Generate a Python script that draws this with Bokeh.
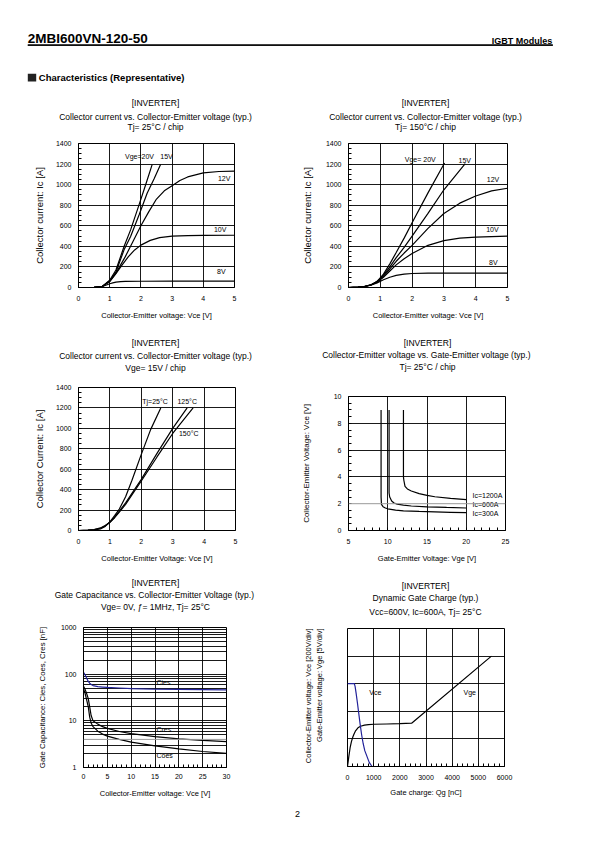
import math
from bokeh.plotting import figure
from bokeh.layouts import column, row
from bokeh.models import Range1d, FixedTicker, SingleIntervalTicker, Span, NumeralTickFormatter, BoxAnnotation
from bokeh.embed import file_html
from bokeh.resources import INLINE
from bokeh.core.properties import value

FONT = "Liberation Sans"

# ---------------- data ----------------
# Chart 1: Ic vs Vce, Tj = 25 C
c1_x_20 = [0, 0.5, 0.75, 1.0, 1.2, 1.46, 1.67, 1.94, 2.15, 2.36]
c1_y_20 = [0, 2, 8, 70, 170, 398, 560, 803, 997, 1195]
c1_x_15 = [0, 0.5, 0.75, 1.0, 1.2, 1.46, 1.67, 1.94, 2.2, 2.42, 2.63]
c1_y_15 = [0, 2, 8, 65, 150, 366, 495, 705, 916, 1055, 1195]
c1_x_12 = [0, 0.5, 0.75, 1.0, 1.2, 1.5, 1.75, 2.0, 2.25, 2.5, 2.75, 3.0, 3.25, 3.5, 4.0, 4.5, 5.0]
c1_y_12 = [0, 2, 8, 60, 140, 300, 450, 600, 735, 860, 940, 990, 1040, 1075, 1115, 1128, 1132]
c1_x_10 = [0, 0.5, 0.75, 1.0, 1.2, 1.4, 1.6, 1.8, 2.0, 2.3, 2.6, 3.0, 3.5, 4.0, 5.0]
c1_y_10 = [0, 2, 8, 58, 135, 220, 300, 365, 412, 458, 485, 500, 505, 507, 508]
c1_x_8 = [0, 0.5, 0.75, 0.9, 1.0, 1.1, 1.2, 1.35, 1.5, 2.0, 3.0, 4.0, 5.0]
c1_y_8 = [0, 2, 8, 24, 36, 45, 52, 57, 59, 61, 62, 62, 62]
c1_lab_text = ["Vge=20V", "15V", "12V", "10V", "8V"]
c1_lab_x = [1.49, 2.62, 4.47, 4.34, 4.44]
c1_lab_y = [1270, 1270, 1061, 560, 155]

# Chart 2: Ic vs Vce, Tj = 150 C
c2_x_20 = [0, 0.3, 0.5, 0.7, 0.9, 1.1, 1.3, 1.5, 1.75, 2.0, 2.5, 3.02]
c2_y_20 = [0, 3, 10, 25, 60, 130, 230, 340, 480, 630, 920, 1210]
c2_x_15 = [0, 0.3, 0.5, 0.7, 0.9, 1.1, 1.3, 1.5, 1.75, 2.0, 2.5, 3.0, 3.67]
c2_y_15 = [0, 3, 10, 25, 58, 120, 200, 290, 390, 500, 720, 950, 1205]
c2_x_12 = [0, 0.3, 0.5, 0.7, 0.9, 1.1, 1.3, 1.5, 1.75, 2.0, 2.5, 3.0, 3.5, 4.0, 4.5, 5.0]
c2_y_12 = [0, 3, 10, 24, 55, 110, 180, 255, 335, 410, 575, 720, 820, 890, 940, 965]
c2_x_10 = [0, 0.3, 0.5, 0.7, 0.9, 1.1, 1.3, 1.5, 1.75, 2.0, 2.5, 3.0, 3.5, 4.0, 4.5, 5.0]
c2_y_10 = [0, 3, 10, 24, 52, 100, 160, 220, 280, 330, 410, 455, 480, 490, 495, 500]
c2_x_8 = [0, 0.3, 0.5, 0.7, 0.9, 1.1, 1.3, 1.5, 1.75, 2.0, 2.5, 3.0, 4.0, 5.0]
c2_y_8 = [0, 3, 9, 22, 45, 75, 100, 118, 130, 136, 139, 140, 140, 140]
c2_lab_text = ["Vge= 20V", "15V", "12V", "10V", "8V"]
c2_lab_x = [1.77, 3.46, 4.35, 4.33, 4.42]
c2_lab_y = [1245, 1238, 1051, 560, 243]

# Chart 3: Ic vs Vce, Vge = 15 V
c3_x_25 = [0, 0.3, 0.5, 0.7, 0.85, 1.0, 1.15, 1.3, 1.5, 1.7, 2.0, 2.3, 2.62]
c3_y_25 = [0, 2, 5, 15, 40, 85, 145, 210, 330, 490, 745, 990, 1200]
c3_x_125 = [0, 0.3, 0.5, 0.7, 0.85, 1.0, 1.15, 1.3, 1.5, 1.75, 2.0, 2.5, 3.0, 3.46]
c3_y_125 = [0, 3, 8, 22, 45, 80, 130, 190, 270, 385, 500, 755, 1000, 1200]
c3_x_150 = [0, 0.3, 0.5, 0.7, 0.85, 1.0, 1.15, 1.3, 1.5, 1.75, 2.0, 2.5, 3.0, 3.65]
c3_y_150 = [0, 3, 9, 25, 48, 80, 125, 180, 255, 370, 485, 720, 950, 1200]
c3_lab_text = ["Tj=25°C", "125°C", "150°C"]
c3_lab_x = [2.03, 3.15, 3.2]
c3_lab_y = [1259, 1259, 952]

# Chart 4: Vce vs Vge, Tj = 25 C
c4_x_300 = [9.15, 9.15, 9.2, 9.4, 9.7, 10, 11, 12, 14, 16, 18, 20]
c4_y_300 = [9, 2.5, 1.95, 1.78, 1.68, 1.62, 1.52, 1.47, 1.42, 1.39, 1.36, 1.33]
c4_x_600 = [10.17, 10.17, 10.25, 10.5, 10.8, 11.2, 12, 13, 15, 17.5, 20]
c4_y_600 = [9, 2.8, 2.5, 2.2, 2.05, 1.97, 1.9, 1.83, 1.77, 1.72, 1.68]
c4_x_1200 = [12.0, 12.0, 12.05, 12.2, 12.5, 13, 14, 15, 16, 18, 20]
c4_y_1200 = [9, 4.0, 3.75, 3.3, 3.1, 2.95, 2.75, 2.62, 2.52, 2.4, 2.3]
c4_lab_text = ["Ic=1200A", "Ic=600A", "Ic=300A"]
c4_lab_x = [20.8, 20.8, 20.8]
c4_lab_y = [2.61, 1.92, 1.25]

# Chart 5: capacitances
c5_x = [0, 0.3, 0.6, 1.0, 1.3, 1.6, 2, 3, 4, 5, 7.5, 10, 15, 20, 25, 30]
c5_cies = [110, 98, 85, 70, 64, 60, 57, 54, 53, 52, 50.5, 49, 47.5, 47, 46.5, 46]
c5_cres = [55, 48, 40, 30, 20, 13, 10, 8.5, 7.5, 6.9, 5.9, 5.3, 4.6, 4.1, 3.8, 3.6]
c5_coes = [48, 40, 30, 20, 12, 9, 7.5, 6, 5.2, 4.7, 4.0, 3.5, 2.9, 2.5, 2.2, 2.0]
c5_lab_text = ["Cies", "Cres", "Coes"]
c5_lab_x = [15.3, 15.3, 15.3]
c5_lab_y = [67, 6.4, 1.77]

# Chart 6: dynamic gate charge
c6_qg_vge = [0, 50, 100, 150, 200, 250, 300, 400, 500, 650, 800, 1000, 1500, 2000, 2450, 5500]
c6_vge = [0, 1.8, 3.4, 4.5, 5.3, 5.9, 6.4, 7.0, 7.3, 7.5, 7.6, 7.65, 7.7, 7.75, 7.85, 20.0]
c6_qg_vce = [0, 260, 290, 330, 380, 430, 484, 540, 600, 660, 740, 830, 930, 1000]
c6_vce = [600, 600, 580, 530, 460, 385, 305, 230, 165, 115, 75, 30, 2, 0]
c6_lab_text = ["Vce", "Vge"]
c6_lab_x = [830, 4433]
c6_lab_y = [13.4, 13.4]

BLUE = "#22229a"
LW = 1.2
TH = 45  # height of the title strip above each chart


def blank(w, h, flip=True):
    p = figure(width=w, height=h, x_range=Range1d(0, w),
               y_range=(Range1d(h, 0) if flip else Range1d(0, h)),
               min_border=0, output_backend="svg", toolbar_location=None, frame_align=False)
    p.axis.visible = False
    p.grid.visible = False
    p.outline_line_color = None
    return p


def txt(p, x, y, t, size="8.5px", align="center", baseline="middle", style="normal", angle=0.0):
    p.text(x=[x], y=[y], text=[t], text_font=value(FONT), text_font_size=size,
           text_font_style=style, text_align=align, text_baseline=baseline,
           text_color="black", angle=angle)


def title_strip(w, cx, ys, lines):
    s = blank(w, TH)
    for yy, t in zip(ys, lines):
        txt(s, cx, yy, t)
    return s


def chart(col_w, row_h, fl, ft, fw, fh, xr, yr, log=False):
    h = row_h - TH
    top = ft - TH
    p = figure(width=col_w, height=h, x_range=Range1d(*xr), y_range=Range1d(*yr),
               y_axis_type=("log" if log else "linear"),
               min_border_left=fl, min_border_right=col_w - fl - fw,
               min_border_top=top, min_border_bottom=h - top - fh,
               output_backend="svg", toolbar_location=None, frame_align=False)
    p.outline_line_color = "black"
    p.outline_line_width = 1
    p.outline_line_alpha = 1
    for ax in p.axis:
        ax.axis_line_color = "black"
        ax.major_tick_in = 0
        ax.major_tick_out = 0
        ax.minor_tick_in = 3
        ax.minor_tick_out = 0
        ax.minor_tick_line_color = "black"
        ax.major_label_text_font = FONT
        ax.major_label_text_font_size = "7px"
        ax.major_label_text_color = "black"
        ax.axis_label_text_font = FONT
        ax.axis_label_text_font_style = "normal"
        ax.axis_label_text_color = "black"
    p.xaxis.major_label_standoff = 8
    p.xaxis.axis_label_standoff = 7
    p.xaxis.axis_label_text_font_size = "7.5px"
    p.yaxis.major_label_standoff = 7
    p.grid.grid_line_color = "black"
    p.grid.grid_line_alpha = 1
    p.grid.grid_line_width = 0.9
    return p


def curve_labels(p, xs, ys, texts):
    p.text(x=xs, y=ys, text=texts, text_font=value(FONT), text_font_size="7px",
           text_align="left", text_baseline="middle", text_color="black")


LCOL, RCOL = 297, 298
R1, R2, R3 = 242, 242, 228
LINE2_IC = "Collector current vs. Collector-Emitter voltage (typ.)"

# ---- chart 1
t1 = title_strip(LCOL, 155, [14.7, 28.7, 38.5], ["[INVERTER]", LINE2_IC, "Tj= 25°C / chip"])
p1 = chart(LCOL, R1, 78, 55, 156, 144, (0, 5), (0, 1400))
p1.xaxis.ticker = SingleIntervalTicker(interval=1, num_minor_ticks=0)
p1.yaxis.ticker = SingleIntervalTicker(interval=200, num_minor_ticks=4)
p1.xaxis.axis_label = "Collector-Emitter voltage: Vce [V]"
p1.yaxis.axis_label = "Collector current: Ic [A]"
p1.yaxis.axis_label_text_font_size = "9.5px"
p1.yaxis.axis_label_standoff = 8
for xs, ys in [(c1_x_20, c1_y_20), (c1_x_15, c1_y_15), (c1_x_12, c1_y_12), (c1_x_10, c1_y_10), (c1_x_8, c1_y_8)]:
    p1.line(xs, ys, line_color="black", line_width=LW)
curve_labels(p1, c1_lab_x, c1_lab_y, c1_lab_text)

# ---- chart 2
t2 = title_strip(RCOL, 128, [14.7, 28.7, 38.5], ["[INVERTER]", LINE2_IC, "Tj= 150°C / chip"])
p2 = chart(RCOL, R1, 51, 55, 159, 144, (0, 5), (0, 1400))
p2.xaxis.ticker = SingleIntervalTicker(interval=1, num_minor_ticks=0)
p2.yaxis.ticker = SingleIntervalTicker(interval=200, num_minor_ticks=4)
p2.xaxis.axis_label = "Collector-Emitter voltage: Vce [V]"
p2.yaxis.axis_label = "Collector current: Ic [A]"
p2.yaxis.axis_label_text_font_size = "9.5px"
p2.yaxis.axis_label_standoff = 10
for xs, ys in [(c2_x_20, c2_y_20), (c2_x_15, c2_y_15), (c2_x_12, c2_y_12), (c2_x_10, c2_y_10), (c2_x_8, c2_y_8)]:
    p2.line(xs, ys, line_color="black", line_width=LW)
curve_labels(p2, c2_lab_x, c2_lab_y, c2_lab_text)

# ---- chart 3
t3 = title_strip(LCOL, 155, [12.3, 25, 37.3], ["[INVERTER]", LINE2_IC, "Vge= 15V / chip"])
p3 = chart(LCOL, R2, 78, 57, 157, 143, (0, 5), (0, 1400))
p3.xaxis.ticker = SingleIntervalTicker(interval=1, num_minor_ticks=0)
p3.yaxis.ticker = SingleIntervalTicker(interval=200, num_minor_ticks=4)
p3.xaxis.axis_label = "Collector-Emitter Voltage: Vce [V]"
p3.yaxis.axis_label = "Collector Current: Ic [A]"
p3.yaxis.axis_label_text_font_size = "9.5px"
p3.yaxis.axis_label_standoff = 8
for xs, ys in [(c3_x_25, c3_y_25), (c3_x_125, c3_y_125), (c3_x_150, c3_y_150)]:
    p3.line(xs, ys, line_color="black", line_width=LW)
curve_labels(p3, c3_lab_x, c3_lab_y, c3_lab_text)

# ---- chart 4
t4 = title_strip(RCOL, 130, [12.3, 24.3, 36],
                 ["[INVERTER]", "Collector-Emitter voltage  vs. Gate-Emitter voltage (typ.)", "Tj= 25°C / chip"])
p4 = chart(RCOL, R2, 51, 66, 157, 134, (5, 25), (0, 10))
p4.xaxis.ticker = SingleIntervalTicker(interval=5, num_minor_ticks=5)
p4.yaxis.ticker = SingleIntervalTicker(interval=2, num_minor_ticks=4)
p4.ygrid.ticker = FixedTicker(ticks=[4, 6, 8])
p4.add_layout(Span(location=2, dimension="width", line_color="#999999", line_width=1))
p4.xaxis.axis_label = "Gate-Emitter Voltage: Vge [V]"
p4.yaxis.axis_label = "Collector-Emitter Voltage: Vce [V]"
p4.yaxis.axis_label_text_font_size = "8px"
p4.yaxis.axis_label_standoff = 20
for xs, ys in [(c4_x_300, c4_y_300), (c4_x_600, c4_y_600), (c4_x_1200, c4_y_1200)]:
    p4.line(xs, ys, line_color="black", line_width=LW)
curve_labels(p4, c4_lab_x, c4_lab_y, c4_lab_text)

# ---- chart 5
t5 = title_strip(LCOL, 155, [10.3, 22.3, 34],
                 ["[INVERTER]", "Gate Capacitance vs. Collector-Emitter Voltage  (typ.)", "Vge= 0V, ƒ= 1MHz, Tj= 25°C"])
p5 = chart(LCOL, R3, 83, 55, 143, 140, (0, 30), (1, 1000), log=True)
p5.xaxis.ticker = SingleIntervalTicker(interval=5, num_minor_ticks=5)
p5.yaxis.ticker = FixedTicker(ticks=[1, 10, 100, 1000], minor_ticks=[])
p5.yaxis.formatter = NumeralTickFormatter(format="0")
grid_y = [m * 10 ** k for k in range(3) for m in range(1, 10) if not (k == 0 and m in (1, 4))] + [1000]
p5.ygrid.ticker = FixedTicker(ticks=grid_y)
p5.xgrid.ticker = FixedTicker(ticks=[5, 10, 15, 20, 25])
p5.add_layout(Span(location=4, dimension="width", line_color="#999999", line_width=1))
p5.xaxis.axis_label = "Collector-Emitter voltage: Vce [V]"
p5.yaxis.axis_label = "Gate Capacitance: Cies, Coes, Cres [nF]"
p5.yaxis.axis_label_text_font_size = "7.8px"
p5.yaxis.axis_label_standoff = 11
p5.xaxis.major_label_standoff = 6
p5.line(c5_x, c5_cies, line_color=BLUE, line_width=LW)
p5.line(c5_x, c5_cres, line_color="black", line_width=LW)
p5.line(c5_x, c5_coes, line_color="black", line_width=LW)
curve_labels(p5, c5_lab_x, c5_lab_y, c5_lab_text)

# ---- chart 6 (side strip for the two-line y label)
SIDE = 30
t6 = title_strip(RCOL, 128, [13, 25.7, 39], ["[INVERTER]", "Dynamic Gate Charge (typ.)", "Vcc=600V, Ic=600A, Tj= 25°C"])
p6 = chart(RCOL - SIDE, R3, 50 - SIDE, 56, 157, 138, (0, 6000), (0, 25))
p6.extra_y_ranges = {"vce": Range1d(0, 1000)}
p6.xaxis.ticker = SingleIntervalTicker(interval=1000, num_minor_ticks=5)
p6.yaxis.visible = False
p6.ygrid.ticker = FixedTicker(ticks=[5, 10, 15, 20])
p6.xaxis.axis_label = "Gate charge: Qg [nC]"
p6.xaxis.axis_label_standoff = 5
p6.line(c6_qg_vge, c6_vge, line_color="black", line_width=LW)
p6.line(c6_qg_vce, c6_vce, line_color=BLUE, line_width=LW, y_range_name="vce")
curve_labels(p6, c6_lab_x, c6_lab_y, c6_lab_text)
side_h = R3 - TH
side = blank(SIDE, side_h, flip=False)
top_y = side_h - (56 - TH)
txt(side, 10.7, top_y, "Collector-Emitter voltage: Vce [200V/div]", size="7.5px", align="right", angle=math.pi / 2)
txt(side, 22, top_y, "Gate-Emitter voltage: Vge [5V/div]", size="7.5px", align="right", angle=math.pi / 2)

# ---- header (title strip + rule)
hdr = blank(595, 50)
txt(hdr, 27.3, 38.0, "2MBI600VN-120-50", size="13.5px", align="left", style="bold")
txt(hdr, 551.7, 40.0, "IGBT Modules", size="9px", align="right", style="bold")
hdr.add_layout(BoxAnnotation(left=27.3, right=552.3, top=44.0, bottom=45.3,
                             fill_color="black", fill_alpha=1.0, line_color=None))
hdr.line(x=[27.3, 552.3], y=[44.6, 44.6], line_color="black", line_width=1.2)

hdr2 = blank(595, 38)
hdr2.quad(left=[27.3], right=[35.7], top=[23.3], bottom=[31], fill_color="#222222", line_color=None)
txt(hdr2, 38.3, 27.2, "Characteristics (Representative)", size="9.5px", align="left", style="bold")

# ---- footer
ftr = blank(595, 30)
txt(ftr, 297, 13, "2", size="9px")

layout = column(
    hdr,
    hdr2,
    row(column(t1, p1), column(t2, p2)),
    row(column(t3, p3), column(t4, p4)),
    row(column(t5, p5), column(t6, row(side, p6))),
    ftr,
)
open("out.html", "w").write(file_html(layout, INLINE))
